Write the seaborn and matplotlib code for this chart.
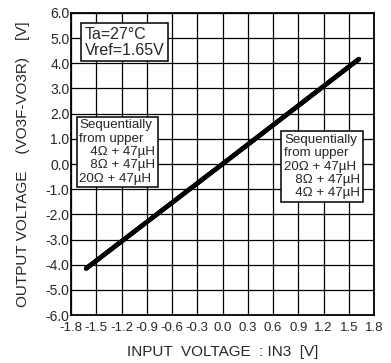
import numpy as np
import pandas as pd
import matplotlib
matplotlib.use("Agg")
import matplotlib.pyplot as plt
import seaborn as sns

# three loads overlap on one straight line
input_v = [-1.62, 0.0, 1.62]
out_4ohm = [-4.15, 0.0, 4.17]
out_8ohm = [-4.15, 0.0, 4.17]
out_20ohm = [-4.15, 0.0, 4.17]

x_ticks = [-1.8, -1.5, -1.2, -0.9, -0.6, -0.3, 0.0, 0.3, 0.6, 0.9, 1.2, 1.5, 1.8]
y_ticks = [-6.0, -5.0, -4.0, -3.0, -2.0, -1.0, 0.0, 1.0, 2.0, 3.0, 4.0, 5.0, 6.0]

df = pd.DataFrame({
    "x": input_v * 3,
    "y": out_4ohm + out_8ohm + out_20ohm,
    "load": ["4ohm"] * 3 + ["8ohm"] * 3 + ["20ohm"] * 3,
})

sns.set_style("white")
plt.rcParams["font.family"] = ["Liberation Sans", "DejaVu Sans"]

fig = plt.figure(figsize=(3.91, 3.63), dpi=100)
ax = fig.add_axes([0.1816, 0.1322, 0.775, 0.832])

sns.lineplot(data=df, x="x", y="y", hue="load", palette=["black"] * 3,
             linewidth=3.2, legend=False, ax=ax, solid_capstyle="round")

ax.set_xlim(-1.8, 1.8)
ax.set_ylim(-6.0, 6.0)
ax.set_xticks(x_ticks)
ax.set_yticks(y_ticks)
ax.set_xticklabels([f"{v:.1f}" for v in x_ticks], fontsize=9.5)
ax.set_yticklabels([f"{v:.1f}" for v in y_ticks], fontsize=10)
ax.tick_params(axis="x", length=0, pad=5)
ax.tick_params(axis="y", length=0, pad=1)
ax.grid(True, color="black", linewidth=0.9)
for s in ax.spines.values():
    s.set_color("black")
    s.set_linewidth(1.3)

ax.set_xlabel("INPUT  VOLTAGE  : IN3  [V]", fontsize=11, labelpad=8)
ax.set_ylabel("OUTPUT VOLTAGE    (VO3F-VO3R)    [V]", fontsize=11, labelpad=11)

box = dict(boxstyle="square,pad=0.2", facecolor="white", edgecolor="black", linewidth=1.1)
ax.text(0.045, 0.955, "Ta=27°C\nVref=1.65V", transform=ax.transAxes, fontsize=11.5,
        va="top", ha="left", bbox=box, linespacing=1.1)
ax.text(0.028, 0.648, "Sequentially\nfrom upper\n   4Ω + 47µH\n   8Ω + 47µH\n20Ω + 47µH",
        transform=ax.transAxes, fontsize=9.6, va="top", ha="left", bbox=box, linespacing=1.15)
ax.text(0.703, 0.6, "Sequentially\nfrom upper\n20Ω + 47µH\n   8Ω + 47µH\n   4Ω + 47µH",
        transform=ax.transAxes, fontsize=9.6, va="top", ha="left", bbox=box, linespacing=1.15)

fig.savefig("out.png", dpi=100)
